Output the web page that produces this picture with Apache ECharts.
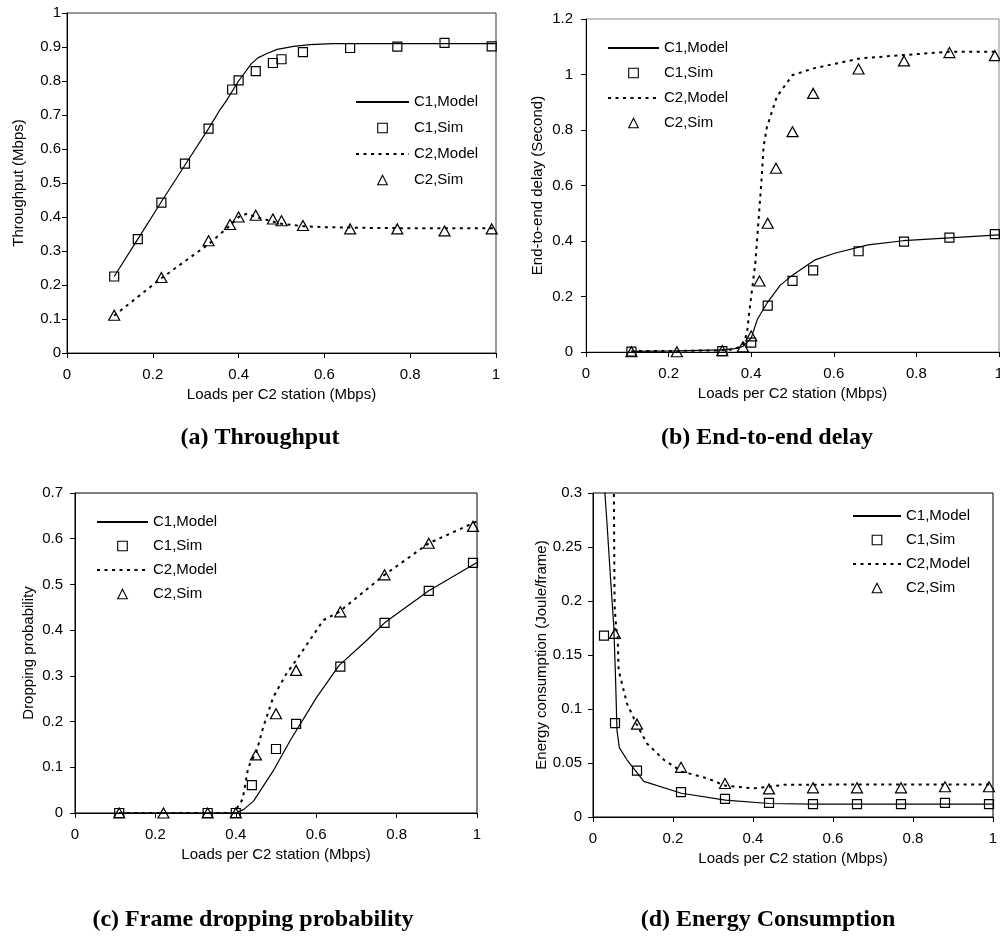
<!DOCTYPE html>
<html><head><meta charset="utf-8">
<script src="https://cdn.jsdelivr.net/npm/echarts@6.0.0/dist/echarts.min.js"></script>
<style>html,body{margin:0;padding:0;background:#fff}#c{width:1000px;height:947px}</style>
</head><body><div id="c"></div>
<script>
// ---------- (a) Throughput ----------
const aC1SimX = [0.11,0.165,0.22,0.275,0.33,0.385,0.40,0.44,0.48,0.50,0.55,0.66,0.77,0.88,0.99];
const aC1Sim  = [0.225,0.335,0.442,0.557,0.660,0.775,0.802,0.829,0.853,0.864,0.885,0.897,0.901,0.912,0.902];
const aC2SimX = [0.11,0.22,0.33,0.38,0.40,0.44,0.48,0.50,0.55,0.66,0.77,0.88,0.99];
const aC2Sim  = [0.111,0.222,0.330,0.378,0.400,0.405,0.394,0.389,0.375,0.365,0.365,0.359,0.365];
const aC1ModelX = [0.11,0.165,0.22,0.275,0.33,0.357,0.372,0.40,0.43,0.445,0.465,0.49,0.528,0.566,0.62,0.70,0.80,0.90,1.00];
const aC1Model  = [0.225,0.335,0.445,0.553,0.66,0.716,0.743,0.80,0.851,0.868,0.88,0.893,0.902,0.907,0.91,0.91,0.91,0.91,0.91];
const aC2ModelX = [0.11,0.22,0.33,0.38,0.40,0.42,0.44,0.47,0.50,0.55,0.60,0.70,0.80,0.90,1.00];
const aC2Model  = [0.11,0.22,0.32,0.375,0.40,0.41,0.40,0.39,0.38,0.373,0.37,0.368,0.367,0.367,0.367];
// ---------- (b) End-to-end delay ----------
const bC1SimX = [0.11,0.33,0.40,0.44,0.50,0.55,0.66,0.77,0.88,0.99];
const bC1Sim  = [0.001,0.003,0.034,0.167,0.256,0.294,0.363,0.398,0.412,0.425];
const bC2SimX = [0.11,0.22,0.33,0.38,0.40,0.42,0.44,0.46,0.50,0.55,0.66,0.77,0.88,0.99];
const bC2Sim  = [0.001,0.001,0.005,0.019,0.058,0.256,0.464,0.662,0.794,0.932,1.02,1.049,1.079,1.068];
const bC1ModelX = [0.11,0.22,0.33,0.36,0.38,0.40,0.415,0.44,0.47,0.50,0.553,0.602,0.683,0.768,0.88,1.00];
const bC1Model  = [0.002,0.004,0.008,0.012,0.02,0.05,0.118,0.18,0.24,0.277,0.331,0.356,0.386,0.401,0.411,0.422];
const bC2ModelX = [0.11,0.22,0.33,0.36,0.38,0.39,0.395,0.405,0.41,0.418,0.425,0.43,0.438,0.462,0.50,0.551,0.664,0.768,0.88,1.00];
const bC2Model  = [0.003,0.004,0.006,0.01,0.025,0.07,0.14,0.26,0.32,0.48,0.62,0.74,0.81,0.92,0.998,1.022,1.058,1.07,1.082,1.082];
// ---------- (c) Frame dropping probability ----------
const cC1SimX = [0.11,0.33,0.40,0.44,0.50,0.55,0.66,0.77,0.88,0.99];
const cC1Sim  = [0,0,0,0.061,0.14,0.195,0.32,0.416,0.486,0.547];
const cC2SimX = [0.11,0.22,0.33,0.40,0.45,0.50,0.55,0.66,0.77,0.88,0.99];
const cC2Sim  = [0,0,0,0,0.127,0.217,0.312,0.44,0.521,0.59,0.627];
const cC1ModelX = [0.11,0.22,0.33,0.40,0.42,0.444,0.493,0.535,0.601,0.657,0.726,0.77,0.88,1.00];
const cC1Model  = [0,0,0,0,0.008,0.026,0.092,0.158,0.253,0.323,0.378,0.416,0.486,0.548];
const cC2ModelX = [0.11,0.22,0.33,0.395,0.417,0.431,0.452,0.468,0.493,0.526,0.55,0.618,0.657,0.77,0.88,1.00];
const cC2Model  = [0,0,0,0,0.03,0.1,0.136,0.187,0.253,0.305,0.334,0.422,0.44,0.521,0.59,0.638];
// ---------- (d) Energy consumption ----------
const dC1SimX = [0.0275,0.055,0.11,0.22,0.33,0.44,0.55,0.66,0.77,0.88,0.99];
const dC1Sim  = [0.168,0.087,0.043,0.023,0.0167,0.013,0.012,0.012,0.012,0.013,0.012];
const dC2SimX = [0.055,0.11,0.22,0.33,0.44,0.55,0.66,0.77,0.88,0.99];
const dC2Sim  = [0.17,0.086,0.046,0.031,0.026,0.027,0.027,0.027,0.028,0.028];
const dC1ModelX = [0.026,0.035,0.043,0.052,0.056,0.060,0.066,0.085,0.127,0.221,0.331,0.44,0.55,0.70,0.85,1.00];
const dC1Model  = [0.32,0.272,0.226,0.176,0.133,0.08,0.064,0.053,0.033,0.022,0.0157,0.0125,0.012,0.012,0.012,0.012];
const dC2ModelX = [0.052,0.053,0.054,0.058,0.0617,0.064,0.085,0.109,0.135,0.177,0.222,0.284,0.331,0.40,0.44,0.477,0.60,0.80,1.00];
const dC2Model  = [0.32,0.25,0.195,0.175,0.167,0.136,0.105,0.086,0.068,0.053,0.042,0.036,0.029,0.0266,0.028,0.0298,0.03,0.03,0.03];

const xTitle = 'Loads per C2 station (Mbps)';
const yTitles = ['Throughput (Mbps)', 'End-to-end delay (Second)', 'Dropping probability', 'Energy consumption (Joule/frame)'];
const yMax = [1, 1.2, 0.7, 0.3];
const yStep = [0.1, 0.2, 0.1, 0.05];
const captions = ['(a) Throughput', '(b) End-to-end delay', '(c) Frame dropping probability', '(d) Energy Consumption'];
const names = ['C1,Model', 'C1,Sim', 'C2,Model', 'C2,Sim'];

const FF = '"Liberation Sans", Arial, sans-serif';
const pair = (xs, ys) => xs.map((x, i) => [x, ys[i]]);

const panels = [
  {c1m: pair(aC1ModelX, aC1Model), c1s: pair(aC1SimX, aC1Sim), c2m: pair(aC2ModelX, aC2Model), c2s: pair(aC2SimX, aC2Sim)},
  {c1m: pair(bC1ModelX, bC1Model), c1s: pair(bC1SimX, bC1Sim), c2m: pair(bC2ModelX, bC2Model), c2s: pair(bC2SimX, bC2Sim)},
  {c1m: pair(cC1ModelX, cC1Model), c1s: pair(cC1SimX, cC1Sim), c2m: pair(cC2ModelX, cC2Model), c2s: pair(cC2SimX, cC2Sim)},
  {c1m: pair(dC1ModelX, dC1Model), c1s: pair(dC1SimX, dC1Sim), c2m: pair(dC2ModelX, dC2Model), c2s: pair(dC2SimX, dC2Sim)}
];

// layout
const grids = [
  {left: 67, top: 13, width: 429, height: 340, borderColor: '#333'},
  {left: 586, top: 19, width: 413, height: 333, borderColor: '#888'},
  {left: 75, top: 493, width: 402, height: 320, borderColor: '#000'},
  {left: 593, top: 493, width: 400, height: 324, borderColor: '#000'}
];
const yNameGap = [41, 41, 39, 42];
const yLabelMargin = [6, 13, 12, 11];
const legends = [
  {left: 355, top: 94, itemWidth: 53, itemGap: 10},
  {left: 607, top: 40, itemWidth: 51, itemGap: 9},
  {left: 96, top: 514, itemWidth: 51, itemGap: 8},
  {left: 852, top: 508, itemWidth: 48, itemGap: 8}
];
const capPos = [[260, 438], [767, 438], [253, 920], [768, 920]];

const simLegendStyle = {color: 'rgba(255,255,255,0)', borderColor: '#000', borderWidth: 1.1, opacity: 1};

const option = {
  animation: false,
  backgroundColor: '#fff',
  grid: grids.map(g => ({left: g.left, top: g.top, width: g.width, height: g.height, show: true,
    borderColor: g.borderColor, borderWidth: 1, backgroundColor: 'transparent', containLabel: false, outerBoundsMode: 'none'})),
  xAxis: grids.map((g, i) => ({
    type: 'value', gridIndex: i, min: 0, max: 1, interval: 0.2,
    name: xTitle, nameLocation: 'middle', nameGap: 34,
    nameTextStyle: {fontFamily: FF, fontSize: 15, color: '#000'},
    axisLine: {show: true, onZero: false, lineStyle: {color: '#000', width: 1}},
    axisTick: {show: true, inside: false, length: 5, lineStyle: {color: '#000', width: 1}},
    axisLabel: {margin: 14, fontFamily: FF, fontSize: 15, color: '#000'},
    splitLine: {show: false}
  })),
  yAxis: grids.map((g, i) => ({
    type: 'value', gridIndex: i, min: 0, max: yMax[i], interval: yStep[i],
    name: yTitles[i], nameLocation: 'middle', nameGap: yNameGap[i], nameRotate: 90,
    nameTextStyle: {fontFamily: FF, fontSize: 15, color: '#000'},
    axisLine: {show: true, onZero: false, lineStyle: {color: '#000', width: 1}},
    axisTick: {show: true, inside: false, length: 5, lineStyle: {color: '#000', width: 1}},
    axisLabel: {margin: yLabelMargin[i], fontFamily: FF, fontSize: 15, color: '#000'},
    splitLine: {show: false}
  })),
  legend: legends.map(l => ({
    orient: 'vertical', left: l.left, top: l.top, padding: 0,
    itemWidth: l.itemWidth, itemHeight: 12, itemGap: l.itemGap, selectedMode: false,
    textStyle: {fontFamily: FF, fontSize: 15, color: '#000', lineHeight: 16},
    data: [
      {name: names[0], itemStyle: {opacity: 0}},
      {name: names[1], lineStyle: {opacity: 0}, itemStyle: simLegendStyle},
      {name: names[2], itemStyle: {opacity: 0}},
      {name: names[3], lineStyle: {opacity: 0}, itemStyle: simLegendStyle}
    ]
  })),
  graphic: captions.map((t, i) => ({
    type: 'text', x: capPos[i][0], y: capPos[i][1], silent: true,
    style: {text: t, font: 'bold 24px "Liberation Serif", "Times New Roman", serif', fill: '#000',
      align: 'center', verticalAlign: 'middle', textAlign: 'center', textVerticalAlign: 'middle'}
  })),
  series: []
};

panels.forEach((p, i) => {
  option.series.push({
    type: 'line', name: names[0], xAxisIndex: i, yAxisIndex: i, data: p.c1m,
    symbol: 'none', clip: true, z: 2,
    lineStyle: {color: '#000', width: 1.2}, itemStyle: {color: '#000'}
  });
  option.series.push({
    type: 'line', name: names[1], xAxisIndex: i, yAxisIndex: i, data: p.c1s,
    symbol: 'rect', symbolSize: 9, showSymbol: true, clip: false, z: 3,
    lineStyle: {width: 0, opacity: 0, color: '#000'},
    itemStyle: {color: 'rgba(255,255,255,0)', borderColor: '#000', borderWidth: 1.2}
  });
  option.series.push({
    type: 'line', name: names[2], xAxisIndex: i, yAxisIndex: i, data: p.c2m,
    symbol: 'none', clip: true, z: 2,
    lineStyle: {color: '#000', width: 2, type: [3, 4.5]}, itemStyle: {color: '#000'}
  });
  option.series.push({
    type: 'line', name: names[3], xAxisIndex: i, yAxisIndex: i, data: p.c2s,
    symbol: 'triangle', symbolSize: [11, 10], showSymbol: true, clip: false, z: 3,
    lineStyle: {width: 0, opacity: 0, color: '#000'},
    itemStyle: {color: 'rgba(255,255,255,0)', borderColor: '#000', borderWidth: 1.2}
  });
});

const chart = echarts.init(document.getElementById('c'), null, {renderer: 'canvas', width: 1000, height: 947});
chart.setOption(option);
</script>
</body></html>
